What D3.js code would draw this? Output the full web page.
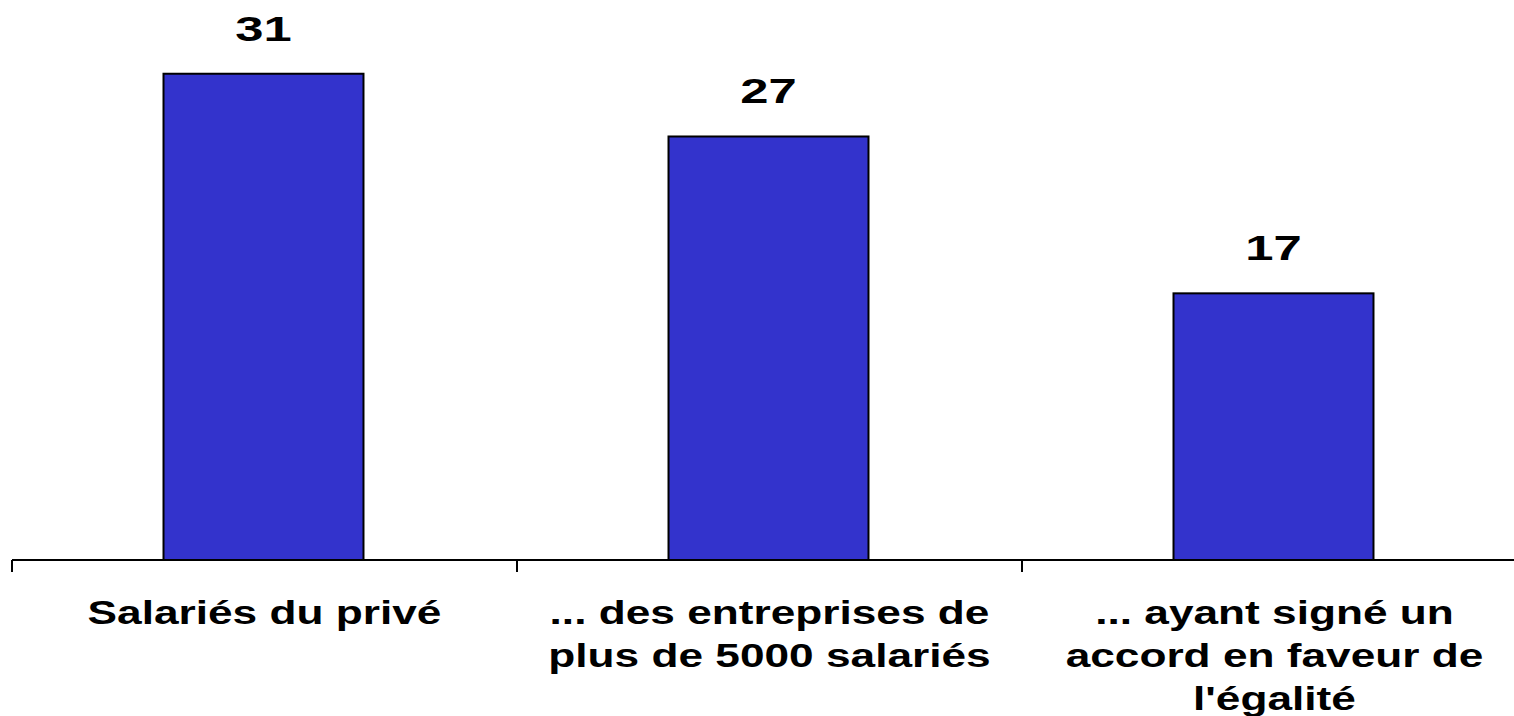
<!DOCTYPE html>
<html>
<head>
<meta charset="utf-8">
<script src="https://cdn.jsdelivr.net/npm/d3@7"></script>
<style>
  html, body { margin: 0; padding: 0; background: #fff; }
  svg { display: block; }
  text { font-family: "Liberation Sans", Arial, sans-serif; font-weight: bold; fill: #000; }
</style>
</head>
<body>
<svg id="chart" width="1514" height="716"></svg>
<script>
const categories = [
  ["Salariés du privé"],
  ["... des entreprises de", "plus de 5000 salariés"],
  ["... ayant signé un", "accord en faveur de", "l'égalité"]
];
const values = [31, 27, 17];

const svg = d3.select("#chart");
const baseY = 560;
const labelStretch = 1.3;
const valueStretch = 1.45;

const x = d3.scaleBand()
  .domain(d3.range(values.length))
  .range([12, 1527])
  .paddingInner(0.604)
  .paddingOuter(0.302);

const y = d3.scaleLinear().domain([0, 35]).range([baseY, 11]);

// bars
svg.selectAll("rect.bar")
  .data(values)
  .join("rect")
  .attr("class", "bar")
  .attr("x", (d, i) => x(i) - 1)
  .attr("y", d => y(d))
  .attr("width", x.bandwidth())
  .attr("height", d => y(0) - y(d))
  .attr("fill", "#3333CC")
  .attr("stroke", "#000")
  .attr("stroke-width", 2);

// value labels
svg.selectAll("text.val")
  .data(values)
  .join("text")
  .attr("class", "val")
  .attr("text-anchor", "middle")
  .attr("font-size", 35)
  .attr("transform", (d, i) => `translate(${x(i) + x.bandwidth() / 2 - 1},${y(d) - 33}) scale(${valueStretch},1)`)
  .text(d => d);

// axis line and ticks at band boundaries
const gap = x.step() - x.bandwidth();
const bounds = values.map((d, i) => x(i) - gap / 2);
svg.append("line")
  .attr("x1", bounds[0]).attr("x2", 1514)
  .attr("y1", baseY).attr("y2", baseY)
  .attr("stroke", "#000").attr("stroke-width", 2);
svg.selectAll("line.tick")
  .data(bounds)
  .join("line")
  .attr("class", "tick")
  .attr("x1", d => d).attr("x2", d => d)
  .attr("y1", baseY).attr("y2", baseY + 12)
  .attr("stroke", "#000").attr("stroke-width", 2);

// category labels
const labelG = svg.selectAll("g.cat")
  .data(categories)
  .join("g")
  .attr("class", "cat")
  .attr("transform", (d, i) => `translate(${x(i) + x.bandwidth() / 2},0)`);
labelG.selectAll("text")
  .data(d => d)
  .join("text")
  .attr("text-anchor", "middle")
  .attr("font-size", 33.5)
  .attr("transform", (d, j) => `translate(0,${624 + j * 43}) scale(${labelStretch + 0.02},1)`)
  .text(d => d);
</script>
</body>
</html>
